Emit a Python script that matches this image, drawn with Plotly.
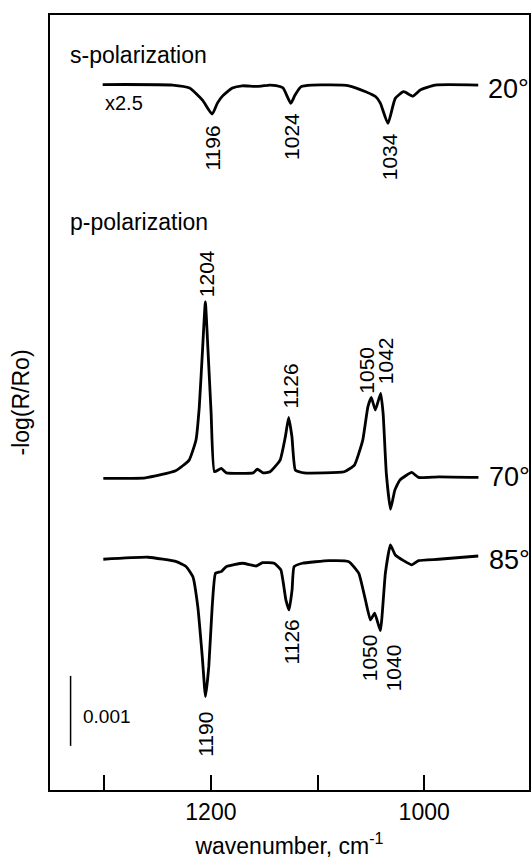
import plotly.graph_objects as go

# ---------------- data (wavenumber in cm-1, -log(R/Ro) in units of 0.001) ----------------
# s-polarization, 20 deg (real values; drawn x2.5)
s20_wn = [1301.5, 1235.9, 1220.0, 1207.9, 1198.8, 1193.9, 1189.2, 1179.9, 1170.5, 1159.3,
          1152.7, 1145.2, 1138.8, 1132.3, 1125.1, 1121.1, 1115.7, 1105.2, 1070.6, 1054.8,
          1045.4, 1041.1, 1034.0, 1027.1, 1019.3, 1010.6, 1003.7, 989.7, 949.3]
s20_abs = [0.003, 0.0, -0.017, -0.086, -0.166, -0.103, -0.063, -0.017, -0.004, -0.008,
           -0.006, 0.0, -0.003, -0.017, -0.104, -0.057, -0.010, 0.0, -0.004, -0.038,
           -0.067, -0.103, -0.219, -0.076, -0.038, -0.063, -0.028, 0.0, 0.0]

# p-polarization, 70 deg
p70_wn = [1300.9, 1261.4, 1233.1, 1220.4, 1214.0, 1210.9, 1207.7, 1205.2, 1202.9, 1199.8,
          1196.7, 1190.3, 1185.6, 1160.3, 1156.5, 1150.9, 1144.5, 1135.1, 1130.2, 1127.1,
          1124.0, 1120.8, 1112.8, 1075.0, 1065.4, 1057.6, 1052.8, 1049.6, 1045.8, 1040.8,
          1038.5, 1035.5, 1031.6, 1027.5, 1022.8, 1011.7, 1005.4, 986.5, 949.1]
p70_abs = [-0.019, -0.010, 0.090, 0.243, 0.529, 1.004, 1.861, 2.504, 1.861, 0.914,
           0.076, 0.124, 0.061, 0.061, 0.114, 0.061, 0.076, 0.243, 0.576, 0.853,
           0.576, 0.100, 0.061, 0.076, 0.171, 0.529, 1.004, 1.139, 0.957, 1.196,
           0.910, 0.053, -0.461, -0.186, -0.043, 0.067, -0.004, 0.004, -0.004]

# p-polarization, 85 deg
p85_wn = [1300.9, 1258.9, 1232.4, 1223.1, 1216.9, 1212.3, 1208.1, 1205.1, 1202.0, 1198.8,
          1195.7, 1190.4, 1185.7, 1170.2, 1157.7, 1151.6, 1140.7, 1134.4, 1129.7, 1126.7,
          1123.9, 1122.0, 1114.2, 1089.3, 1070.6, 1061.3, 1055.1, 1050.4, 1046.4, 1041.1,
          1036.4, 1031.7, 1027.1, 1019.3, 1011.6, 1005.3, 986.6, 949.3]
p85_abs = [0.0, 0.029, -0.034, -0.106, -0.249, -0.677, -1.391, -1.963, -1.534, -0.677,
           -0.200, -0.177, -0.106, -0.057, -0.096, -0.049, -0.057, -0.153, -0.581, -0.724,
           -0.439, -0.106, -0.057, -0.020, -0.034, -0.200, -0.581, -0.867, -0.771, -1.020,
           -0.200, 0.204, 0.061, -0.020, -0.081, -0.020, 0.0, 0.047]

S_MULT = 2.5                       # s-polarization spectrum magnification
x_tick_vals = [1200, 1000]
x_tick_text = ["1200", "1000"]
scale_bar_value = 1.0              # 0.001 absorbance

# peak labels
peak_texts = ["1196", "1024", "1034", "1204", "1126", "1050", "1042", "1126", "1050", "1040", "1190"]
peak_x = [1198.5, 1123.9, 1032.9, 1204.5, 1125.5, 1053.9, 1035.5, 1124.8, 1051.2, 1029.1, 1204.5]
peak_y = [9.17, 9.33, 9.04, 7.37, 5.77, 6.00, 6.13, 2.11, 1.89, 1.74, 0.79]

# vertical offsets of each spectrum (layout)
off20, off70, off85 = 10.07, 4.47, 3.296
U = 1e-3
FONT = "Liberation Sans, Arial, Helvetica, sans-serif"

fig = go.Figure()
line = dict(color="black", width=2.8)
fig.add_trace(go.Scatter(x=s20_wn, y=[(off20 + S_MULT * v) * U for v in s20_abs],
                         mode="lines", line=dict(line, shape="spline", smoothing=0.5), showlegend=False))
fig.add_trace(go.Scatter(x=p70_wn, y=[(off70 + v) * U for v in p70_abs],
                         mode="lines", line=dict(line, shape="spline", smoothing=0.4), showlegend=False))
fig.add_trace(go.Scatter(x=p85_wn, y=[(off85 + v) * U for v in p85_abs],
                         mode="lines", line=dict(line, shape="spline", smoothing=0.4), showlegend=False))

# scale bar
bar_x, bar_y0 = 1331.6, 0.63
fig.add_trace(go.Scatter(x=[bar_x, bar_x], y=[bar_y0 * U, (bar_y0 + scale_bar_value) * U],
                         mode="lines", line=dict(color="black", width=1.5), showlegend=False))

ann = []
def txt(t, x, y, size, xanchor="left", angle=0):
    ann.append(dict(text=t, x=x, y=y * U, xref="x", yref="y", showarrow=False,
                    xanchor=xanchor, yanchor="middle", textangle=angle,
                    font=dict(family=FONT, size=size, color="black")))

txt("s-polarization", 1334.0, 10.50, 23)
txt("p-polarization", 1334.2, 8.11, 23)
txt("x2.5", 1301.5, 9.81, 20)
txt("20°", 941.8, 10.01, 27)
txt("70°", 940.9, 4.47, 27)
txt("85°", 940.9, 3.29, 27)
txt("0.001", 1322.1, 1.05, 19)
for t, x, y in zip(peak_texts, peak_x, peak_y):
    txt(t, x, y, 21, xanchor="center", angle=-90)

fig.update_layout(
    width=531, height=861,
    margin=dict(l=50, r=0, t=15, b=71),
    plot_bgcolor="white", paper_bgcolor="white",
    annotations=ann,
    font=dict(family=FONT, size=23, color="black"),
    xaxis=dict(range=[1350.9, 901.7], tickvals=x_tick_vals, ticktext=x_tick_text,
               ticks="inside", ticklen=15, tickwidth=2, tickcolor="black",
               minor=dict(tick0=1000, dtick=100, ticks="inside", ticklen=15,
                          tickwidth=2, tickcolor="black", showgrid=False),
               showline=True, linewidth=2, linecolor="black", mirror=True,
               showgrid=False, zeroline=False,
               tickfont=dict(family=FONT, size=23, color="black"),
               title=dict(text="wavenumber, cm<sup>-1</sup>", standoff=14,
                          font=dict(family=FONT, size=23, color="black"))),
    yaxis=dict(range=[0, 11.071 * U], showticklabels=False, ticks="",
               showline=True, linewidth=2, linecolor="black", mirror=True,
               showgrid=False, zeroline=False,
               title=dict(text="-log(R/Ro)", standoff=12,
                          font=dict(family=FONT, size=23, color="black"))),
)

fig.write_html("out.html", config={"displayModeBar": False},
               post_script="document.body.style.margin='0';")
